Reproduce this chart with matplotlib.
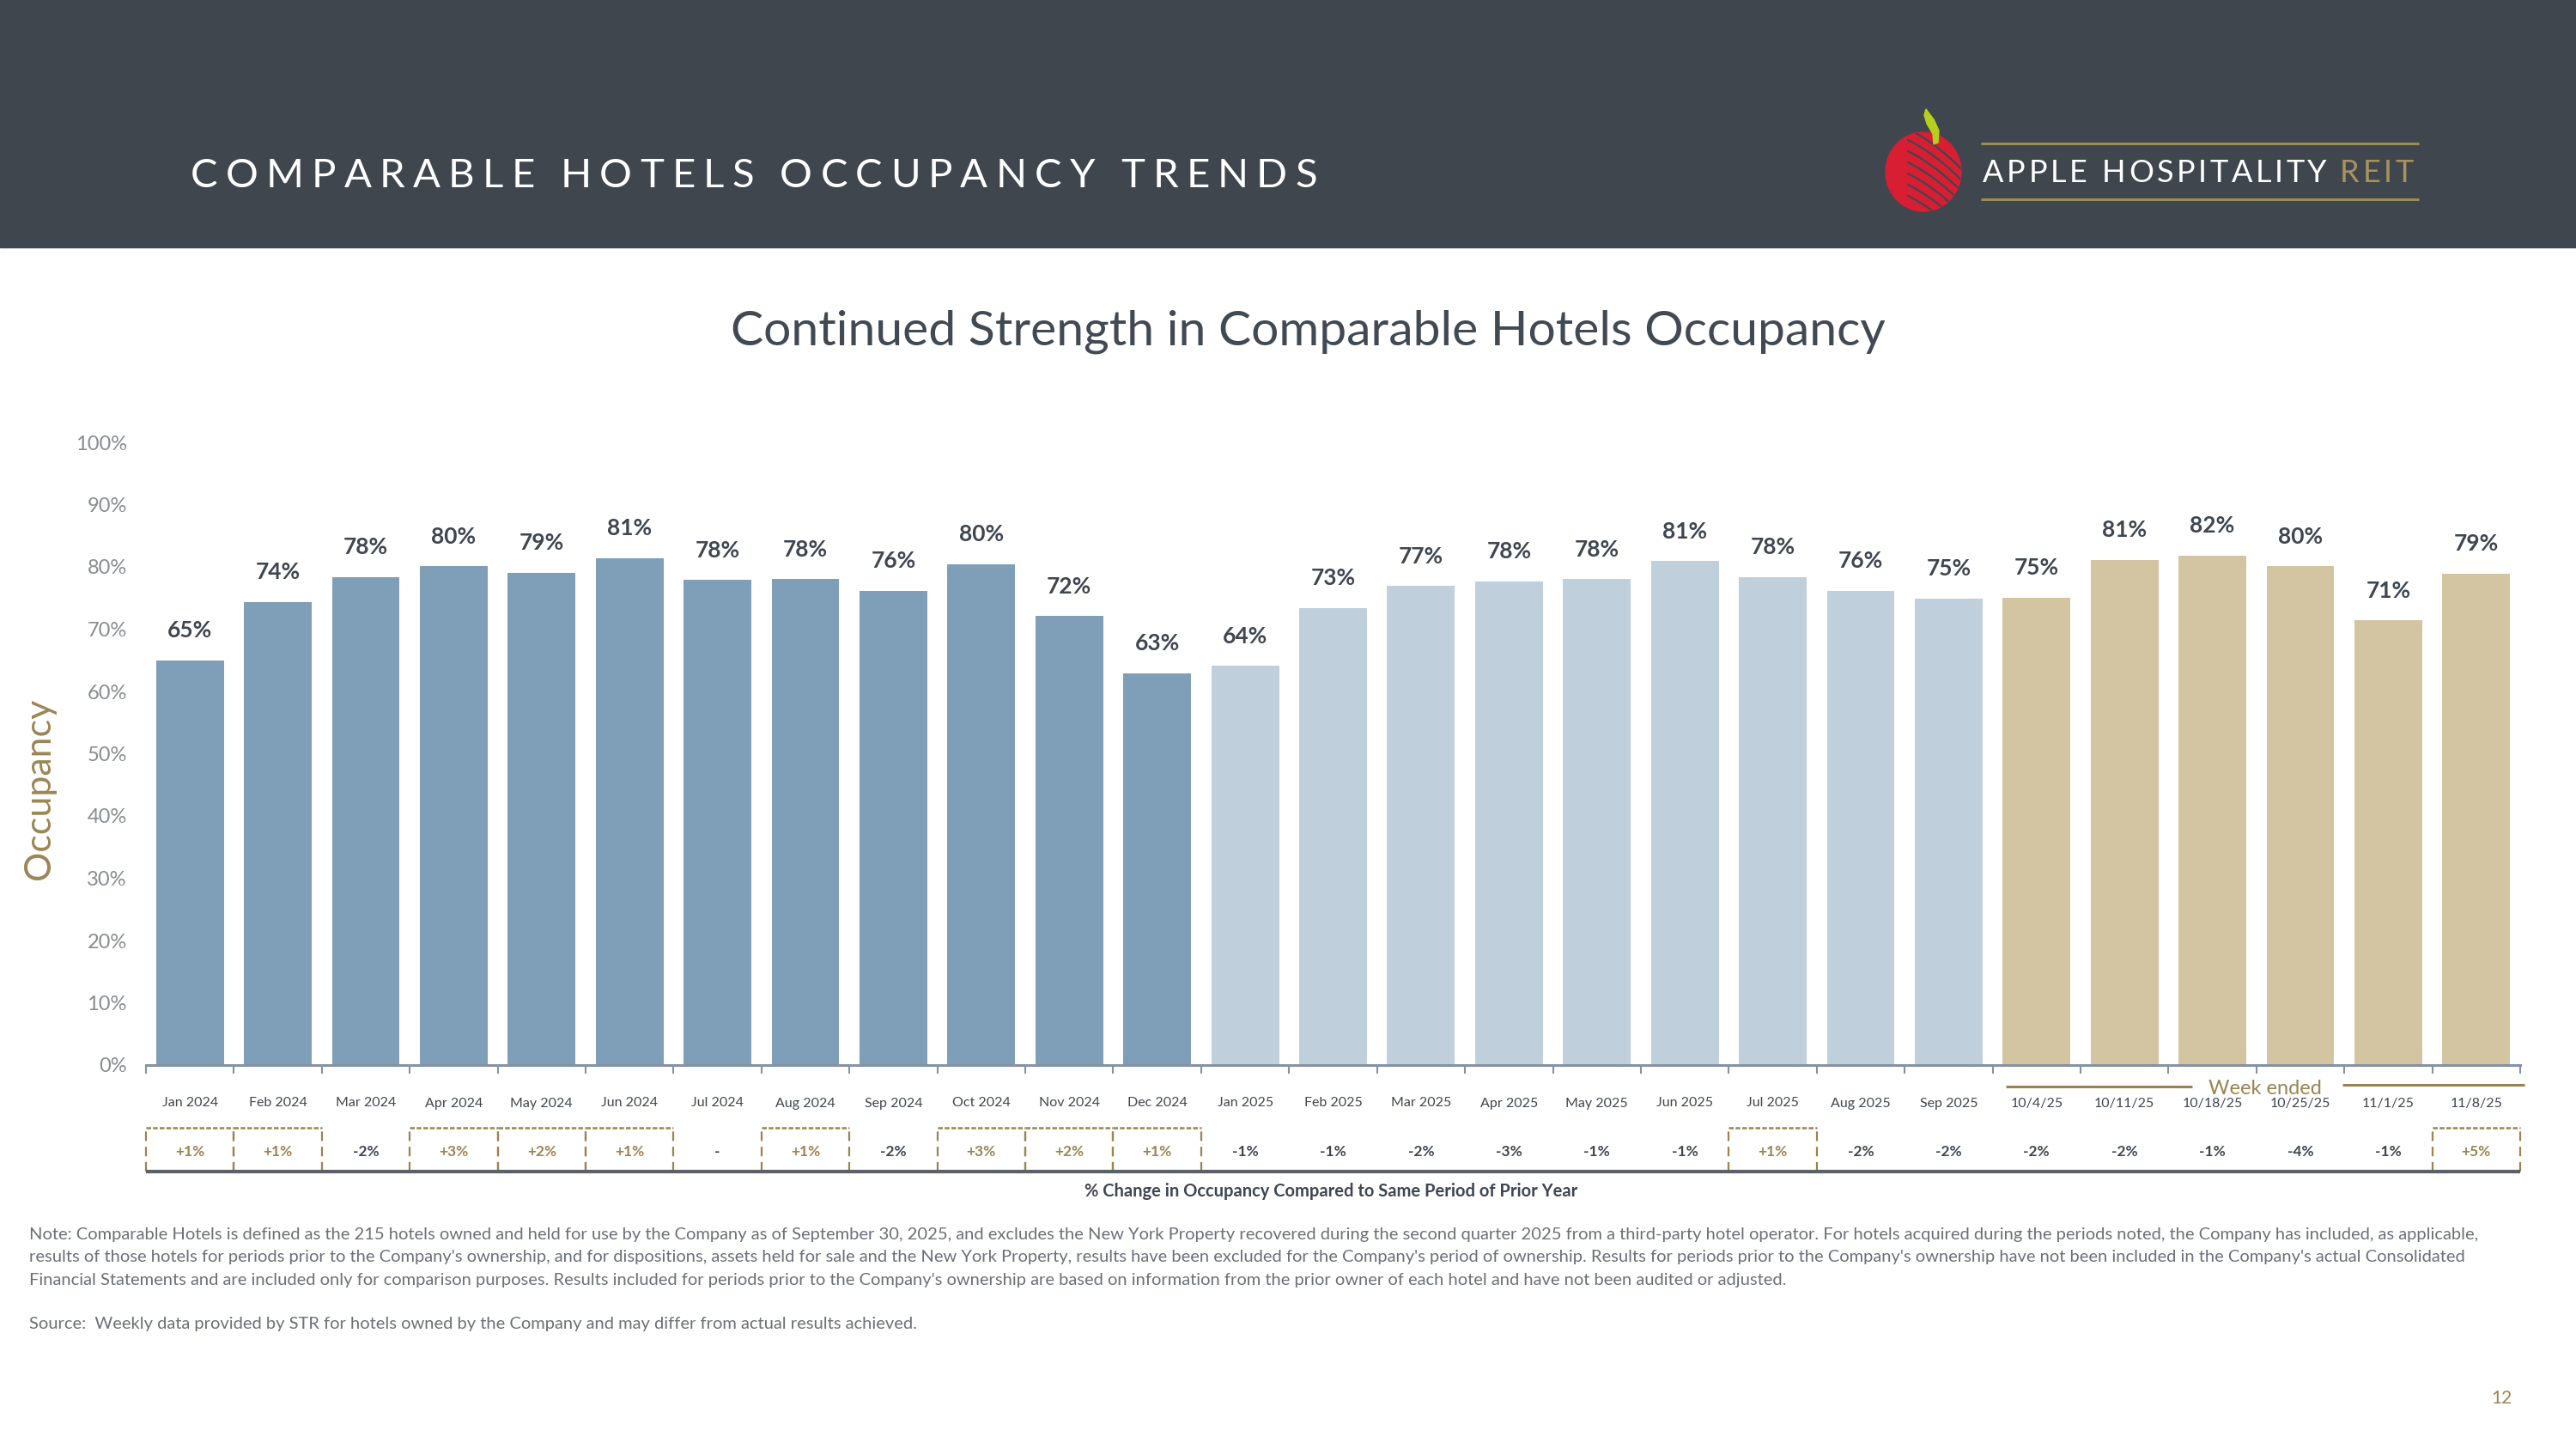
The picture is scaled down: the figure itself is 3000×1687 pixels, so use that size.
import numpy as np
import matplotlib
matplotlib.use('Agg')
import matplotlib.pyplot as plt
import matplotlib.transforms as mtransforms
from matplotlib.patches import Rectangle, Ellipse, Polygon

plt.rcParams['font.family'] = ['Lato', 'DejaVu Sans']

# datos del grafico
months_2024 = ['Jan 2024', 'Feb 2024', 'Mar 2024', 'Apr 2024', 'May 2024', 'Jun 2024',
               'Jul 2024', 'Aug 2024', 'Sep 2024', 'Oct 2024', 'Nov 2024', 'Dec 2024']
months_2025 = ['Jan 2025', 'Feb 2025', 'Mar 2025', 'Apr 2025', 'May 2025', 'Jun 2025',
               'Jul 2025', 'Aug 2025', 'Sep 2025']
weeks = ['10/4/25', '10/11/25', '10/18/25', '10/25/25', '11/1/25', '11/8/25']

occ_2024 = [65.0, 74.4, 78.4, 80.1, 79.1, 81.4, 77.9, 78.0, 76.2, 80.4, 72.1, 62.9]
occ_2025 = [64.1, 73.4, 76.9, 77.7, 78.0, 80.9, 78.4, 76.2, 74.9]
occ_weeks = [75.1, 81.1, 81.8, 80.1, 71.4, 78.9]

yoy_change = ['+1%', '+1%', '-2%', '+3%', '+2%', '+1%', '-', '+1%', '-2%', '+3%', '+2%', '+1%',
              '-1%', '-1%', '-2%', '-3%', '-1%', '-1%', '+1%', '-2%', '-2%',
              '-2%', '-2%', '-1%', '-4%', '-1%', '+5%']

note_lines = [
    "Note: Comparable Hotels is defined as the 215 hotels owned and held for use by the Company as of September 30, 2025, and excludes the New York Property recovered during the second quarter 2025 from a third-party hotel operator. For hotels acquired during the periods noted, the Company has included, as applicable,",
    "results of those hotels for periods prior to the Company's ownership, and for dispositions, assets held for sale and the New York Property, results have been excluded for the Company's period of ownership. Results for periods prior to the Company's ownership have not been included in the Company's actual Consolidated",
    "Financial Statements and are included only for comparison purposes. Results included for periods prior to the Company's ownership are based on information from the prior owner of each hotel and have not been audited or adjusted.",
]
source_line = "Source:  Weekly data provided by STR for hotels owned by the Company and may differ from actual results achieved."

# colores
HEADER = '#3f464e'
DARK = '#3e4651'
GOLD = '#9a8452'
COL_2024 = '#7f9eb8'
COL_2025 = '#bfcfdc'
COL_WEEK = '#d4c5a2'
AXIS = '#8593a1'

labels = months_2024 + months_2025 + weeks
values = occ_2024 + occ_2025 + occ_weeks
colors = [COL_2024] * len(occ_2024) + [COL_2025] * len(occ_2025) + [COL_WEEK] * len(occ_weeks)
x = np.arange(len(labels))

W, H = 3000, 1687
fig = plt.figure(figsize=(W / 100, H / 100), dpi=100)
fig.patch.set_facecolor('white')

# capa de fondo en pixeles (cabecera, logo, notas)
bg = fig.add_axes([0, 0, 1, 1])
bg.set_xlim(0, W)
bg.set_ylim(H, 0)
bg.axis('off')
bg.add_patch(Rectangle((0, 0), W, 288, color=HEADER, zorder=0))

renderer = fig.canvas.get_renderer()


def spaced_text(ax, x0, y0, s, track, space, **kw):
    # texto con espaciado entre letras
    xx = x0
    for ch in s:
        if ch == ' ':
            xx += space
            continue
        t = ax.text(xx, y0, ch, ha='left', va='baseline', **kw)
        xx += t.get_window_extent(renderer).width + track
    return xx


spaced_text(bg, 222, 218, 'COMPARABLE HOTELS OCCUPANCY TRENDS', 9.2, 21,
            color='white', fontsize=34)

# logo
end = spaced_text(bg, 2309, 212, 'APPLE HOSPITALITY', 3.6, 14, color='white', fontsize=26)
spaced_text(bg, end + 12, 212, 'REIT', 3.6, 14, color='#a89262', fontsize=26)
bg.plot([2307, 2817], [167, 167], color='#9c8a5a', lw=2.2, solid_capstyle='butt')
bg.plot([2307, 2817], [232, 232], color='#9c8a5a', lw=2.2, solid_capstyle='butt')
apple = Ellipse((2240, 200), 88, 92, color='#d81e33', zorder=2)
bg.add_patch(apple)
for k in range(7):
    xs = np.linspace(2222, 2300, 60)
    ys = 150 + k * 13 + 0.5 * (xs - 2222) + 0.004 * (xs - 2222) ** 2
    ln, = bg.plot(xs, ys, color=HEADER, lw=1.6, zorder=3)
    ln.set_clip_path(apple)
bg.add_patch(Polygon([(2243, 127), (2252, 139), (2258, 152), (2257, 166), (2252, 168),
                      (2251, 156), (2244, 144), (2241, 134)], color='#b7cf1c', zorder=3))

# titulo
fig.text(1523 / W, 1 - 386 / H, 'Continued Strength in Comparable Hotels Occupancy',
         ha='center', va='center', fontsize=41, color='#414952')

# eje principal
ax = fig.add_axes([170 / W, 1 - 1240 / H, 2765 / W, 725 / H])
ax.set_facecolor('none')
ax.bar(x, values, width=0.77, color=colors, zorder=2)
for i, v in enumerate(values):
    ax.annotate(f'{round(v)}%', (i, v), xytext=(0, 25), textcoords='offset points',
                ha='center', va='center', fontsize=19, fontweight='bold', color=DARK,
                annotation_clip=False)

ax.set_xlim(-0.5, len(labels) - 0.5)
ax.set_ylim(0, 100)
ax.set_yticks(range(0, 101, 10))
ax.set_yticklabels([f'{t}%' for t in range(0, 101, 10)])
ax.set_xticks(x)
ax.set_xticklabels(labels)
ax.set_xticks(np.arange(-0.5, len(labels), 1), minor=True)
ax.tick_params(axis='y', length=0, pad=16, labelsize=17, labelcolor='#878c93')
ax.tick_params(axis='x', which='major', length=0, pad=27, labelsize=11.5, labelcolor=DARK)
ax.tick_params(axis='x', which='minor', length=7, width=1.5, color=AXIS, direction='out')
for side in ['left', 'top', 'right']:
    ax.spines[side].set_visible(False)
ax.spines['bottom'].set_color(AXIS)
ax.spines['bottom'].set_linewidth(2.2)

fig.text(46 / W, 1 - 918 / H, 'Occupancy', rotation=90, ha='center', va='center',
         fontsize=31, color='#9b8655')

# "Week ended"
trans = mtransforms.blended_transform_factory(ax.transData, fig.transFigure)
w0 = len(months_2024) + len(months_2025)
ax.plot([w0 - 0.35, w0 + 1.77], [1 - 1265 / H] * 2, color=GOLD, lw=2.2, transform=trans,
        clip_on=False, solid_capstyle='butt')
ax.plot([w0 + 3.48, w0 + 5.55], [1 - 1263 / H] * 2, color=GOLD, lw=2.2, transform=trans,
        clip_on=False, solid_capstyle='butt')
ax.text(w0 + 2.6, 1 - 1268 / H, 'Week ended', transform=trans, ha='center', va='center',
        fontsize=17, color=GOLD)

# fila de cambio anual
cax = fig.add_axes([170 / W, 1 - 1364 / H, 2765 / W, 51 / H])
cax.set_xlim(-0.5, len(labels) - 0.5)
cax.set_ylim(0, 1)
cax.axis('off')
for i, s in enumerate(yoy_change):
    pos = s.startswith('+')
    if pos:
        cax.plot([i - 0.5, i + 0.5], [1, 1], ls=(0, (2.2, 0.9)), color=GOLD, lw=1.8, clip_on=False)
        cax.plot([i - 0.5, i - 0.5], [0, 1], ls=(0, (5, 3)), color=GOLD, lw=1.6, clip_on=False)
        cax.plot([i + 0.5, i + 0.5], [0, 1], ls=(0, (5, 3)), color=GOLD, lw=1.6, clip_on=False)
    cax.text(i, 0.45, s, ha='center', va='center', fontsize=12.5, fontweight='bold',
             color=GOLD if pos else DARK)
cax.plot([-0.5, len(labels) - 0.5], [0, 0], color='#5b6168', lw=3, solid_capstyle='butt',
         clip_on=False)

fig.text(1550 / W, 1 - 1387 / H, '% Change in Occupancy Compared to Same Period of Prior Year',
         ha='center', va='center', fontsize=14.5, fontweight='bold', color=DARK)

# notas
for k, line in enumerate(note_lines):
    fig.text(34 / W, 1 - (1437 + 26.8 * k) / H, line, ha='left', va='center',
             fontsize=14.5, color='#6b7079')
fig.text(34 / W, 1 - 1542 / H, source_line, ha='left', va='center', fontsize=14.5,
         color='#6b7079')
fig.text(2913 / W, 1 - 1628 / H, '12', ha='center', va='center', fontsize=15, color=GOLD)

fig.savefig('out.png', dpi=100, facecolor='white')
